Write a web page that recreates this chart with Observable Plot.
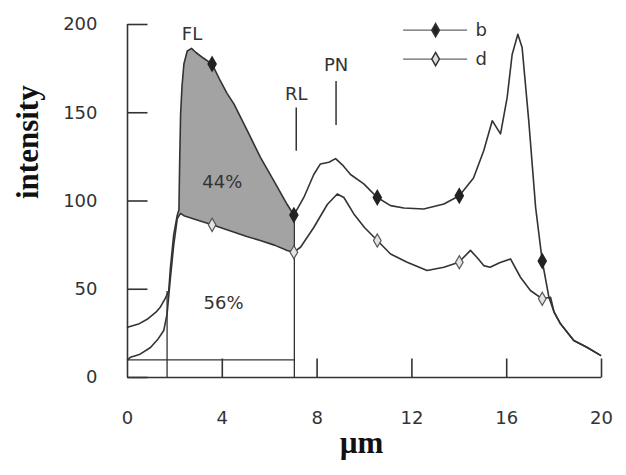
<!DOCTYPE html>
<html><head><meta charset="utf-8">
<script src="https://cdn.jsdelivr.net/npm/d3@7"></script>
<script src="https://cdn.jsdelivr.net/npm/@observablehq/plot@0.6"></script>
<style>body{margin:0;background:#fff}</style>
</head><body><div id="chart"></div>
<script>
// series b (upper curve)
const bX = [0,0.5,0.83,1.2,1.39,1.6,1.74,1.81,1.95,2.1,2.17,2.2,2.24,2.3,2.38,2.52,2.7,2.9,3.2,3.57,3.92,4.2,4.49,5.05,5.61,6.17,6.74,7.02,7.44,7.86,8.14,8.5,8.78,9.1,9.41,9.97,10.54,11.1,11.66,12.5,13.35,14.0,14.6,15.03,15.39,15.6,15.74,16.02,16.23,16.47,16.65,16.93,17.22,17.5,17.78,18.0,18.27,18.83,19.4,19.96];
const bY = [28.5,30.5,33,37,40,45,49,62,81,92,95,121,149,165,177.6,185,186.5,184,181,177.6,168,161,155,140,124.7,111.5,98,92,102,115,121,122,124,120,115,109.7,102,97.4,96,95.5,98.3,103,113,128.5,145.5,141,138,158.7,183,194.5,187,145.5,96.4,66,45.5,37,30.4,21,17,12.5];
// series d (lower curve)
const dX = [0,0.13,0.5,0.97,1.3,1.53,1.67,1.8,1.95,2.1,2.24,2.38,3.0,3.57,4.35,5.0,5.6,6.2,6.74,7.02,7.3,7.86,8.43,8.85,9.13,9.55,10.0,10.54,11.1,11.8,12.64,13.35,13.98,14.47,14.75,15.03,15.3,15.7,16.16,16.58,17.0,17.5,17.85,18.0,18.27,18.83,19.4,19.96];
const dY = [10,11.5,13,17,22,26.6,36,55,75,90,93,91.7,89,86.5,83,80,77.6,75,72,71,73.8,85,98,104,102,92.7,85,77.6,70,65.3,60.6,62.5,65.3,72,68,63.4,62.5,65,67.2,56.8,49.3,44.6,45.5,37,30.4,21,17,12.5];
// marker positions
const markerX = [3.57,7.02,10.54,14.0,17.5];
const bMarkY = [177.6,92,102,103,66];
const dMarkY = [86.5,71,77.6,65.3,44.6];
// ticks
const xTicks = [0,4,8,12,16,20];
const yTicks = [0,50,100,150,200];
// region boundaries
const regionLeft = 1.67, regionRight = 7.04, regionBase = 10, regionLeftTop = 49, regionRightTop = 92;
const shadeFrom = 2.1, shadeTo = 7.02;
// annotations
const labels = [
  {x:2.72, y:194.5, t:"FL"},
  {x:7.12, y:160.5, t:"RL"},
  {x:8.8, y:177, t:"PN"},
  {x:4.0, y:110.5, t:"44%"},
  {x:4.05, y:42, t:"56%"}
];
const pointers = [
  {x:7.12, y1:153, y2:128.5},
  {x:8.8, y1:168, y2:143}
];
const legendItems = [
  {name:"b", y:196.8, fill:"#222"},
  {name:"d", y:180.4, fill:"#ddd"}
];
const legendX1 = 11.63, legendX2 = 14.33, legendMX = 13.0, legendTX = 14.68;

const b = bX.map((x,i)=>({x, y:bY[i]}));
const d = dX.map((x,i)=>({x, y:dY[i]}));
const poly = [...b.filter(p=>p.x>=shadeFrom && p.x<=shadeTo), ...d.filter(p=>p.x>=shadeFrom && p.x<=shadeTo).reverse()];
const bm = markerX.map((x,i)=>({x, y:bMarkY[i]}));
const dm = markerX.map((x,i)=>({x, y:dMarkY[i]}));

const hTick = {draw(ctx) { ctx.moveTo(0, 0); ctx.lineTo(20, 0); }};
const vTick = {draw(ctx) { ctx.moveTo(0, 0); ctx.lineTo(0, -19); }};
const ink = "#333";
const chart = Plot.plot({
  width: 626, height: 475,
  marginLeft: 127, marginRight: 25, marginTop: 24, marginBottom: 98,
  x: {domain: [0, 20]},
  y: {domain: [0, 200]},
  style: {fontFamily: "DejaVu Sans", fontSize: "18px", color: ink, background: "#fff"},
  marks: [
    Plot.line(poly, {x:"x", y:"y", fill:"#a3a3a3", stroke:"none"}),
    Plot.ruleX([0], {stroke: ink, strokeWidth: 1.6}),
    Plot.ruleY([0], {stroke: ink, strokeWidth: 1.6}),
    Plot.axisY({ticks: yTicks, tickSize: 0, tickPadding: 30, label: null, letterSpacing: 1}),
    Plot.axisX({ticks: xTicks, tickSize: 0, tickPadding: 34, label: null, letterSpacing: 1}),
    Plot.dot(yTicks, {x: () => 0, y: v => v, symbol: hTick, fill: "none", stroke: ink, strokeWidth: 1.6}),
    Plot.dot(xTicks.slice(1), {x: v => v, y: () => 0, symbol: vTick, fill: "none", stroke: ink, strokeWidth: 1.6}),
    // region lines
    Plot.link([{x1:0, x2:regionRight, y:regionBase}], {x1:"x1", x2:"x2", y1:"y", y2:"y", stroke: ink, strokeWidth: 1.3}),
    Plot.link([{x:regionLeft, y2:regionLeftTop},{x:regionRight, y2:regionRightTop}], {x1:"x", x2:"x", y1:0, y2:"y2", stroke: ink, strokeWidth: 1.3}),
    Plot.line(b, {x:"x", y:"y", stroke: ink, strokeWidth: 1.6}),
    Plot.line(d, {x:"x", y:"y", stroke: ink, strokeWidth: 1.6}),
    Plot.dot(bm, {x:"x", y:"y", symbol:"diamond", r:4.2, fill:"#222", stroke:"#222"}),
    Plot.dot(dm, {x:"x", y:"y", symbol:"diamond", r:4, fill:"#e4e4e4", stroke:"#555", strokeWidth:1.2}),
    Plot.link(pointers, {x1:"x", x2:"x", y1:"y1", y2:"y2", stroke: ink, strokeWidth: 1.5}),
    Plot.text(labels, {x:"x", y:"y", text:"t", fill: ink, fontSize: 18}),
    // legend
    Plot.link(legendItems, {x1: legendX1, x2: legendX2, y1:"y", y2:"y", stroke:"#666", strokeWidth: 1.3}),
    Plot.dot(legendItems, {x: legendMX, y:"y", symbol:"diamond", r:4, fill:"fill", stroke:"#333"}),
    Plot.text(legendItems, {x: legendTX, y:"y", text:"name", textAnchor:"start", fill: ink, fontSize: 18}),
    // axis titles
    Plot.text(["intensity"], {frameAnchor:"left", dx:-99, dy:-2, rotate:-90, fontFamily:"Liberation Serif", fontWeight:"bold", fontSize:31, fill:"#111"}),
    Plot.text(["µm"], {frameAnchor:"bottom", dx:-3, dy:75, fontFamily:"Liberation Serif", fontWeight:"bold", fontSize:31, fill:"#111"})
  ]
});
document.getElementById("chart").appendChild(chart);
</script>
</body></html>
